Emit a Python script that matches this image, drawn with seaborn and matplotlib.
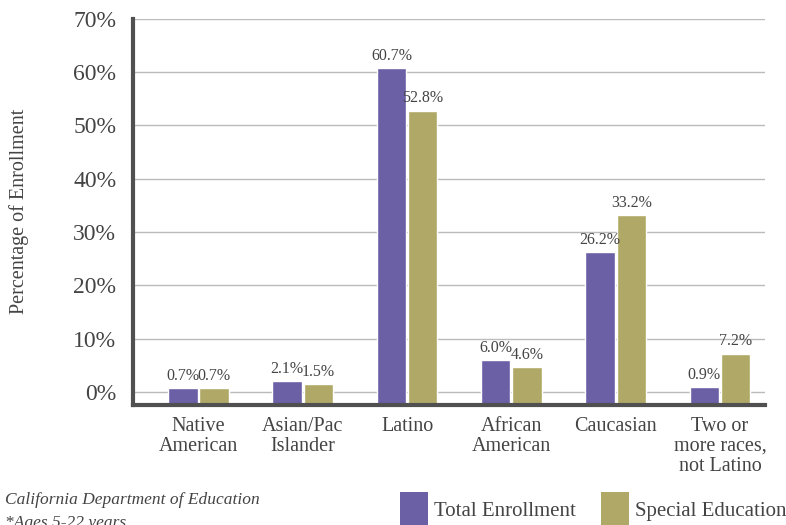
import pandas as pd
import matplotlib.pyplot as plt
import seaborn as sns
from matplotlib.patches import Patch

# data
groups = ['Native\nAmerican', 'Asian/Pac\nIslander', 'Latino', 'African\nAmerican',
          'Caucasian', 'Two or\nmore races,\nnot Latino']
total_enrollment = [0.7, 2.1, 60.7, 6.0, 26.2, 0.9]
special_education = [0.7, 1.5, 52.8, 4.6, 33.2, 7.2]
series_names = ['Total Enrollment', 'Special Education']
y_ticks = [0, 10, 20, 30, 40, 50, 60, 70]

colors = ['#6b5fa6', '#b0a866']
text_color = '#444444'
y_bottom = -2.4

data = pd.DataFrame({
    'Group': groups * 2,
    'Series': [series_names[0]] * len(groups) + [series_names[1]] * len(groups),
    'Value': total_enrollment + special_education,
})

sns.set_style('white')
plt.rcParams['font.family'] = ['Liberation Serif', 'DejaVu Serif']

fig = plt.figure(figsize=(7.86, 5.25), dpi=100)
ax = fig.add_axes([0.169, 0.229, 0.804, 0.735])

sns.barplot(data=data, x='Group', y='Value', hue='Series', palette=colors,
            width=0.6, gap=0.06, ax=ax, legend=False, saturation=1)

# bars in the original start at the axis line, below 0%
for p in ax.patches:
    h = p.get_height()
    p.set_y(y_bottom)
    p.set_height(h - y_bottom)

for container, vals in zip(ax.containers, [total_enrollment, special_education]):
    ax.bar_label(container, labels=[f'{v:.1f}%' for v in vals], padding=3,
                 fontsize=11.5, color=text_color)

ax.set_ylim(y_bottom, 70)
ax.set_xlim(-0.63, 5.43)
ax.set_yticks(y_ticks)
ax.set_yticklabels([f'{t}%' for t in y_ticks], fontsize=17, color=text_color)
ax.tick_params(axis='x', labelsize=14.5, colors=text_color, length=0, pad=9)
ax.tick_params(axis='y', length=0, pad=12)
for lbl in ax.get_xticklabels():
    lbl.set_linespacing(1.05)
ax.set_xlabel('')
ax.set_ylabel('Percentage of Enrollment', fontsize=14.5, color=text_color, labelpad=32)

ax.yaxis.grid(True, color='#bbbbbb', linewidth=1)
ax.set_axisbelow(True)
for side in ['top', 'right']:
    ax.spines[side].set_visible(False)
for side in ['left', 'bottom']:
    ax.spines[side].set_color('#505050')
    ax.spines[side].set_linewidth(3)

# legend squares at the bottom right
handles = [Patch(facecolor=c, edgecolor='none') for c in colors]
fig.legend(handles, series_names, loc='lower right', bbox_to_anchor=(1.025, -0.04),
           ncol=2, frameon=False, fontsize=15, handlelength=1.35, handleheight=2.2,
           columnspacing=1.2, handletextpad=0.3, labelcolor=text_color)

fig.text(0.006, 0.04, 'California Department of Education', fontsize=12.5,
         style='italic', color=text_color)
fig.text(0.006, -0.004, '*Ages 5-22 years', fontsize=12.5, style='italic', color=text_color)

plt.savefig('out.png', dpi=100)
